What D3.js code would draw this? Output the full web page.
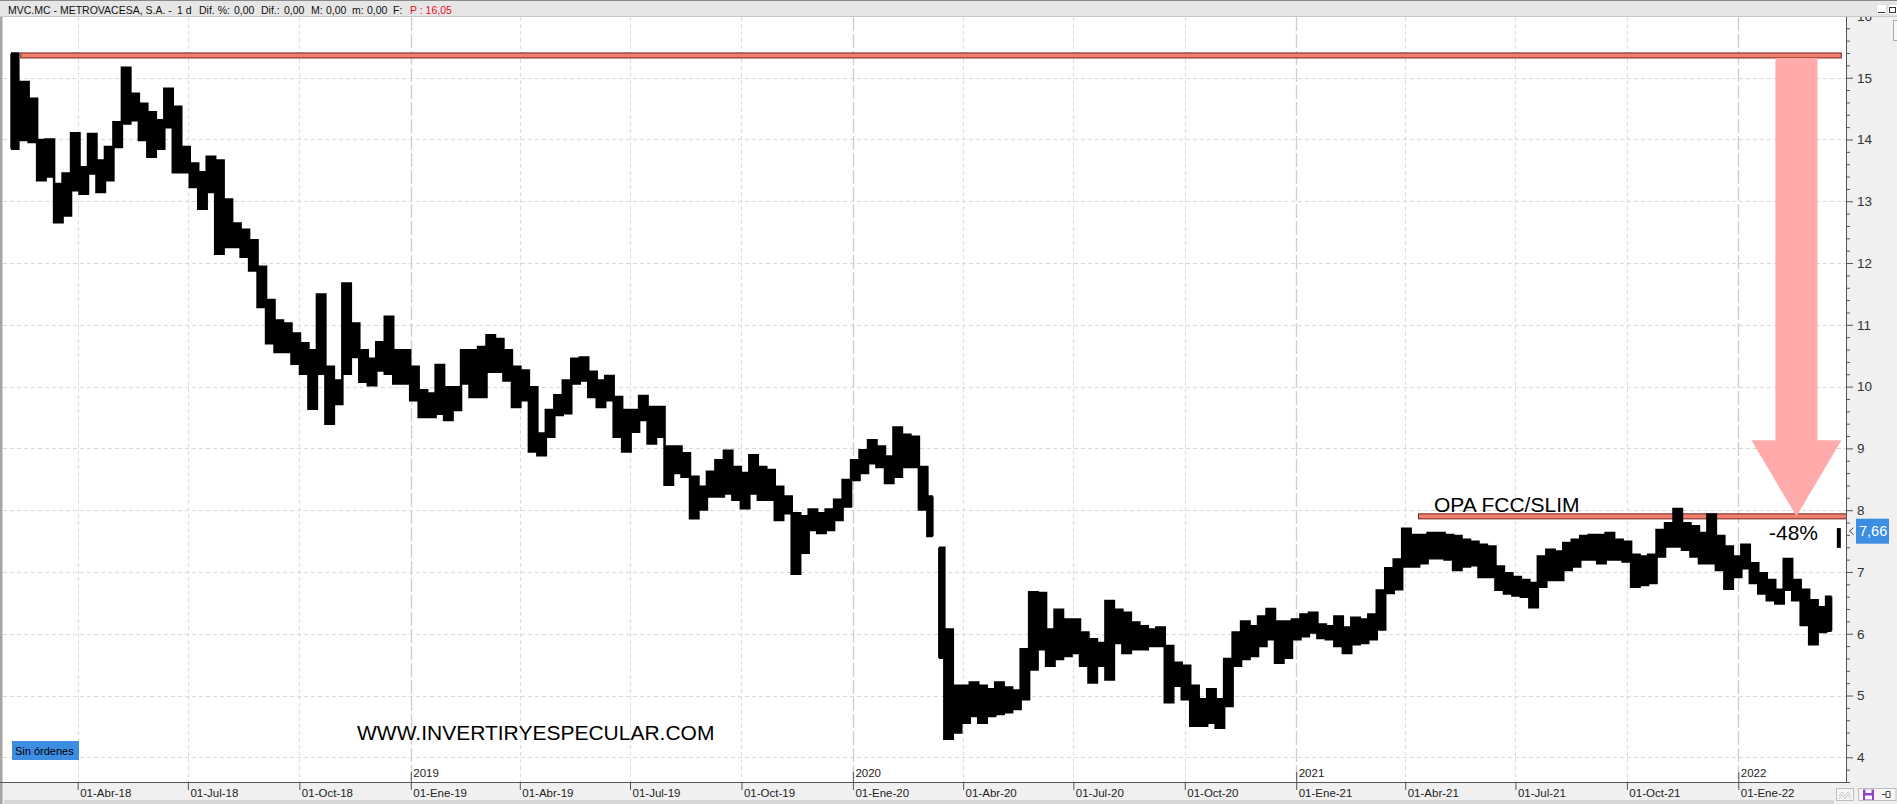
<!DOCTYPE html>
<html><head><meta charset="utf-8">
<script src="https://cdn.jsdelivr.net/npm/d3@7"></script>
<style>
html,body{margin:0;padding:0;background:#fff;overflow:hidden;}
svg{display:block;}
text{font-family:"Liberation Sans",Arial,sans-serif;}
</style></head><body>
<svg id="c" width="1897" height="804"></svg>
<script>
// ---------- DATA (weekly high / low) ----------
const weekDates = [
"2018-02-06","2018-02-16","2018-02-23","2018-03-02","2018-03-09","2018-03-16","2018-03-23","2018-03-30",
"2018-04-06","2018-04-13","2018-04-20","2018-04-27","2018-05-04","2018-05-11","2018-05-18","2018-05-25",
"2018-06-01","2018-06-08","2018-06-15","2018-06-22","2018-06-29","2018-07-06","2018-07-13","2018-07-20","2018-07-27",
"2018-08-03","2018-08-10","2018-08-17","2018-08-24","2018-08-31","2018-09-07","2018-09-14","2018-09-21","2018-09-28",
"2018-10-05","2018-10-12","2018-10-19","2018-10-26","2018-11-02","2018-11-09","2018-11-16","2018-11-23","2018-11-30",
"2018-12-07","2018-12-14","2018-12-21","2018-12-28",
"2019-01-04","2019-01-11","2019-01-18","2019-01-25","2019-02-01","2019-02-08","2019-02-15","2019-02-22",
"2019-03-01","2019-03-08","2019-03-15","2019-03-22","2019-03-29","2019-04-05","2019-04-12","2019-04-19","2019-04-26",
"2019-05-03","2019-05-10","2019-05-17","2019-05-24","2019-05-31","2019-06-07","2019-06-14","2019-06-21","2019-06-28",
"2019-07-05","2019-07-12","2019-07-19","2019-07-26","2019-08-02","2019-08-09","2019-08-16","2019-08-23","2019-08-30",
"2019-09-06","2019-09-13","2019-09-20","2019-09-27","2019-10-04","2019-10-11","2019-10-18","2019-10-25",
"2019-11-01","2019-11-08","2019-11-15","2019-11-22","2019-11-29","2019-12-06","2019-12-13","2019-12-20","2019-12-27",
"2020-01-03","2020-01-10","2020-01-17","2020-01-24","2020-01-31","2020-02-07","2020-02-14","2020-02-21","2020-02-28",
"2020-03-06","2020-03-13","2020-03-20","2020-03-27","2020-04-03","2020-04-10","2020-04-17","2020-04-24",
"2020-05-01","2020-05-08","2020-05-15","2020-05-22","2020-05-29","2020-06-05","2020-06-12","2020-06-19","2020-06-26",
"2020-07-03","2020-07-10","2020-07-17","2020-07-24","2020-07-31","2020-08-07","2020-08-14","2020-08-21","2020-08-28",
"2020-09-04","2020-09-11","2020-09-18","2020-09-25","2020-10-02","2020-10-09","2020-10-16","2020-10-23","2020-10-30",
"2020-11-06","2020-11-13","2020-11-20","2020-11-27","2020-12-04","2020-12-11","2020-12-18","2020-12-25",
"2021-01-01","2021-01-08","2021-01-15","2021-01-22","2021-01-29","2021-02-05","2021-02-12","2021-02-19","2021-02-26",
"2021-03-05","2021-03-12","2021-03-19","2021-03-26","2021-04-02","2021-04-09","2021-04-16","2021-04-23","2021-04-30",
"2021-05-07","2021-05-14","2021-05-21","2021-05-28","2021-06-04","2021-06-11","2021-06-18","2021-06-25",
"2021-07-02","2021-07-09","2021-07-16","2021-07-23","2021-07-30","2021-08-06","2021-08-13","2021-08-20","2021-08-27",
"2021-09-03","2021-09-10","2021-09-17","2021-09-24","2021-10-01","2021-10-08","2021-10-15","2021-10-22","2021-10-29",
"2021-11-05","2021-11-12","2021-11-19","2021-11-26","2021-12-03","2021-12-10","2021-12-17","2021-12-24","2021-12-31",
"2022-01-07","2022-01-14","2022-01-21","2022-01-28","2022-02-04","2022-02-11","2022-02-18","2022-02-25",
"2022-03-04","2022-03-11","2022-03-18","2022-03-25"
];
const weekHigh = [
15.39,14.93,14.66,13.99,14.00,13.28,13.45,14.10,13.55,14.09,13.66,13.88,14.28,15.16,14.74,14.58,
14.44,14.31,14.82,14.53,13.88,13.61,13.47,13.72,13.66,13.03,12.64,12.54,12.37,11.94,11.40,11.07,11.02,10.86,
10.70,10.59,11.49,10.32,10.10,11.67,11.02,10.59,10.45,10.72,11.13,10.59,10.59,
10.32,9.94,9.89,10.35,9.99,9.99,10.59,10.59,10.64,10.83,10.77,10.59,10.32,10.26,9.99,9.24,9.62,
9.86,10.10,10.45,10.47,10.24,10.10,10.17,9.83,9.62,9.62,9.85,9.67,9.67,9.03,9.03,8.92,8.54,8.38,
8.62,8.81,8.96,8.70,8.60,8.89,8.70,8.65,8.38,8.22,7.95,7.90,8.01,7.95,8.01,8.17,8.49,
8.81,8.97,9.13,9.03,8.87,9.34,9.22,9.19,8.70,8.22,7.39,6.07,5.16,5.16,5.21,5.16,5.10,
5.21,5.13,5.08,5.75,6.67,6.66,6.07,6.39,6.23,6.23,6.02,5.91,5.85,6.53,6.39,6.34,6.18,6.12,
6.07,6.10,5.80,5.53,5.48,5.16,4.94,5.10,4.94,5.59,6.02,6.20,6.12,6.28,6.40,6.20,6.20,
6.23,6.31,6.34,6.15,6.12,6.28,6.10,6.26,6.23,6.31,6.70,7.06,7.20,7.70,7.60,7.60,7.63,7.63,
7.60,7.58,7.52,7.49,7.44,7.41,7.09,6.98,6.92,6.87,6.82,7.25,7.36,7.33,7.47,7.52,7.58,
7.60,7.60,7.63,7.52,7.49,7.28,7.25,7.28,7.68,7.79,8.02,7.79,7.74,7.63,7.93,7.58,7.41,7.25,
7.44,7.14,6.98,6.87,6.71,7.21,6.87,6.71,6.54,6.43,6.60,7.71
];
const weekLow = [
13.85,13.99,13.96,13.34,13.40,12.66,12.77,13.18,13.12,13.45,13.15,13.34,13.88,14.26,14.31,13.99,
13.72,13.85,14.20,13.47,13.47,13.23,12.88,13.15,12.15,12.26,12.26,12.10,11.88,11.29,10.70,10.56,10.56,10.37,
10.21,9.64,10.21,9.40,9.72,10.21,10.48,10.08,10.02,10.26,10.21,10.05,10.05,
9.78,9.51,9.51,9.56,9.46,9.62,10.05,9.83,9.83,10.24,10.24,10.10,9.67,9.78,8.95,8.89,9.19,
9.54,9.57,10.05,10.10,9.83,9.67,9.78,9.19,8.95,9.27,9.46,9.08,9.19,8.41,8.60,8.54,7.87,8.01,
8.22,8.22,8.27,8.17,8.03,8.27,8.17,8.17,7.84,7.95,6.97,7.31,7.68,7.63,7.68,7.84,8.06,
8.49,8.60,8.76,8.70,8.44,8.54,8.70,8.70,8.01,7.58,5.61,4.30,4.40,4.56,4.67,4.56,4.67,
4.70,4.73,4.78,4.94,5.42,5.75,5.48,5.59,5.64,5.69,5.48,5.21,5.48,5.26,5.85,5.69,5.75,5.75,
5.80,5.80,4.89,5.16,4.94,4.51,4.51,4.56,4.48,4.83,5.48,5.59,5.64,5.80,5.91,5.53,5.61,
5.91,5.96,6.02,5.93,5.91,5.80,5.69,5.83,5.85,5.91,6.07,6.66,6.72,7.09,7.09,7.14,7.22,7.22,
7.20,7.03,7.09,7.11,6.92,6.92,6.71,6.65,6.62,6.60,6.43,6.76,6.87,6.87,7.03,7.09,7.20,
7.20,7.14,7.20,7.20,7.17,6.76,6.79,6.82,7.25,7.41,7.41,7.36,7.25,7.14,7.14,7.03,6.73,6.92,
7.06,6.82,6.65,6.54,6.49,6.71,6.54,6.14,5.83,6.03,6.05,7.39
];
// price gaps: the series is broken after these weeks
const gapAfter = ["2020-03-06","2022-03-18"];
const yMajorTicks = [4,5,6,7,8,9,10,11,12,13,14,15,16];
const quarterTicks = ["2018-04-01","2018-07-01","2018-10-01","2019-01-01","2019-04-01","2019-07-01","2019-10-01",
"2020-01-01","2020-04-01","2020-07-01","2020-10-01","2021-01-01","2021-04-01","2021-07-01","2021-10-01","2022-01-01"];
const quarterLabels = ["01-Abr-18","01-Jul-18","01-Oct-18","01-Ene-19","01-Abr-19","01-Jul-19","01-Oct-19",
"01-Ene-20","01-Abr-20","01-Jul-20","01-Oct-20","01-Ene-21","01-Abr-21","01-Jul-21","01-Oct-21","01-Ene-22"];
const yearTicks = ["2019-01-01","2020-01-01","2021-01-01","2022-01-01"];
const yearLabels = ["2019","2020","2021","2022"];
const topLevel = 15.36, topLevelStart = "2018-02-13", topLevelEnd = "2022-03-27";
const opaLevel = 7.9, opaStart = "2021-04-12";
const opaLabel = "OPA FCC/SLIM", dropLabel = "-48%";
const lastPrice = 7.66, lastPriceLabel = "7,66";
const arrowDate = "2022-02-18";
const watermark = "WWW.INVERTIRYESPECULAR.COM";
const headerText = ["MVC.MC - METROVACESA, S.A. -","1 d","Dif. %:","0,00","Dif.:","0,00","M:","0,00","m:","0,00","F:","P : 16,05"];

// ---------- LAYOUT ----------
const W = 1897, H = 804;
const plotL = 3, plotR = 1846, plotT = 17, plotB = 782;
const parse = d3.timeParse("%Y-%m-%d");
const x = d3.scaleTime().domain([parse("2018-04-01"), parse("2022-01-01")]).range([77.7, 1738.3]);
const y = d3.scaleLinear().domain([4, 15]).range([757.3, 77.7]);

const svg = d3.select("#c");
svg.append("rect").attr("width", W).attr("height", H).attr("fill", "#fff");

// panels
svg.append("rect").attr("x", plotR).attr("y", plotT).attr("width", W - plotR).attr("height", plotB - plotT).attr("fill", "#F0F0F0");
svg.append("rect").attr("x", 0).attr("y", plotB).attr("width", W).attr("height", H - plotB).attr("fill", "#F0F0F0");
svg.append("rect").attr("x", 4).attr("y", 800).attr("width", 1830).attr("height", 4).attr("fill", "#D6D6D6");
svg.append("rect").attr("x", 0).attr("y", plotT).attr("width", 2.5).attr("height", H - plotT).attr("fill", "#A5A5A5");

svg.append("defs").append("clipPath").attr("id", "plotclip").append("rect")
  .attr("x", plotL).attr("y", plotT).attr("width", plotR - plotL).attr("height", plotB - plotT);
const plot = svg.append("g").attr("clip-path", "url(#plotclip)");

// grid
const yearSet = new Set(yearTicks);
plot.append("g").selectAll("line").data(yMajorTicks).join("line")
  .attr("x1", plotL).attr("x2", plotR).attr("y1", d => Math.round(y(d)) + 0.5).attr("y2", d => Math.round(y(d)) + 0.5)
  .attr("stroke", "#D8D8D8").attr("stroke-dasharray", "4,3");
plot.append("g").selectAll("line").data(quarterTicks).join("line")
  .attr("x1", d => Math.round(x(parse(d))) + 0.5).attr("x2", d => Math.round(x(parse(d))) + 0.5)
  .attr("y1", plotT).attr("y2", plotB)
  .attr("stroke", d => yearSet.has(d) ? "#CFCFCF" : "#DCDCDC")
  .attr("stroke-width", d => yearSet.has(d) ? 1.4 : 1)
  .attr("stroke-dasharray", d => yearSet.has(d) ? "14,3" : "4,3");

// horizontal level bars
function levelBar(level, x0, x1) {
  plot.append("rect").attr("x", x0).attr("y", y(level) - 2.5).attr("width", x1 - x0).attr("height", 5)
    .attr("fill", "#EE806C").attr("stroke", "#7A1F1F").attr("stroke-width", 1);
}
levelBar(topLevel, x(parse(topLevelStart)), x(parse(topLevelEnd)));
levelBar(opaLevel, x(parse(opaStart)), plotR + 2);

// arrow
const ax = x(parse(arrowDate));
const shaftTop = y(topLevel) + 2.5, tipY = y(opaLevel), headY = tipY - 76;
plot.append("path")
  .attr("d", `M${ax - 21},${shaftTop} L${ax + 21},${shaftTop} L${ax + 21},${headY} L${ax + 45},${headY} L${ax},${tipY} L${ax - 45},${headY} L${ax - 21},${headY} Z`)
  .attr("fill", "#FFABAB");

// price series
const pts = weekDates.map((d, i) => ({ key: d, date: parse(d), hi: weekHigh[i], lo: weekLow[i] }));
const gapSet = new Set(gapAfter);
const segments = [];
let cur = [];
pts.forEach(p => {
  cur.push(p);
  if (gapSet.has(p.key)) { segments.push(cur); cur = []; }
});
if (cur.length) segments.push(cur);
const area = d3.area().x(d => x(d.date)).y0(d => y(d.lo)).y1(d => y(d.hi)).curve(d3.curveStep);
const priceG = plot.append("g");
priceG.selectAll("path.seg").data(segments.filter(s => s.length > 1)).join("path").attr("class", "seg")
  .attr("d", area).attr("fill", "#000").attr("stroke", "#000").attr("stroke-width", 2.5).attr("stroke-linejoin", "miter");
priceG.selectAll("line").data(pts).join("line")
  .attr("x1", d => x(d.date)).attr("x2", d => x(d.date))
  .attr("y1", d => y(d.hi)).attr("y2", d => y(d.lo))
  .attr("stroke", "#000").attr("stroke-width", 4);

// texts
svg.append("text").attr("x", 1434).attr("y", y(opaLevel) - 4.5).attr("font-size", 21).attr("fill", "#000").text(opaLabel);
svg.append("text").attr("x", 1769).attr("y", y(opaLevel) + 24).attr("font-size", 21).attr("fill", "#000").text(dropLabel);
svg.append("text").attr("x", 357).attr("y", 740).attr("font-size", 21).attr("fill", "#000").text(watermark);

// Sin órdenes
svg.append("rect").attr("x", 12).attr("y", 741).attr("width", 67).attr("height", 19).attr("fill", "#3D8EE3");
svg.append("text").attr("x", 15).attr("y", 755).attr("font-size", 11).attr("fill", "#000").text("Sin órdenes");

// y axis (right)
const yAxisG = svg.append("g").attr("transform", `translate(${plotR},0)`).attr("color", "#555");
const minorTicks = d3.range(36, 161, 2).map(v => v / 10).filter(v => Math.abs(v - Math.round(v)) > 1e-6);
yAxisG.append("g").call(d3.axisRight(y).tickValues(minorTicks).tickSize(4).tickFormat(""))
  .call(g => g.select(".domain").remove());
yAxisG.append("g").call(d3.axisRight(y).tickValues(yMajorTicks).tickSize(7).tickPadding(4).tickFormat(d3.format("d")))
  .call(g => g.select(".domain").remove())
  .call(g => g.selectAll("text").attr("font-size", 13.5).attr("fill", "#333").attr("font-family", "Liberation Sans, Arial, sans-serif"));
svg.append("line").attr("x1", plotR + 0.5).attr("x2", plotR + 0.5).attr("y1", plotT).attr("y2", plotB).attr("stroke", "#555");

// last price tag
const ly = y(lastPrice);
svg.append("rect").attr("x", 1856).attr("y", ly - 12.5).attr("width", 33).attr("height", 25).attr("fill", "#3D8EE3");
svg.append("text").attr("x", 1859).attr("y", ly + 5).attr("font-size", 14.5).attr("fill", "#fff").text(lastPriceLabel);
svg.append("path").attr("d", `M1853.5,${ly - 3.5} L1849.5,${ly} L1853.5,${ly + 3.5}`).attr("fill", "none").attr("stroke", "#444");

// x axis
const xAxisG = svg.append("g").attr("transform", `translate(0,${plotB})`).attr("color", "#555");
xAxisG.call(d3.axisBottom(x).tickValues(quarterTicks.map(parse)).tickSizeInner(8).tickSizeOuter(0)
    .tickFormat((d, i) => quarterLabels[i]))
  .call(g => g.select(".domain").remove())
  .call(g => g.selectAll("text").attr("text-anchor", "start").attr("x", 2).attr("y", 7).attr("dy", "0.71em")
    .attr("font-size", 11.5).attr("fill", "#222").attr("font-family", "Liberation Sans, Arial, sans-serif"));
const yearAxisG = svg.append("g").attr("transform", `translate(0,${plotB})`).attr("color", "#555");
yearAxisG.call(d3.axisTop(x).tickValues(yearTicks.map(parse)).tickSizeInner(10).tickSizeOuter(0)
    .tickFormat((d, i) => yearLabels[i]))
  .call(g => g.select(".domain").remove())
  .call(g => g.selectAll("text").attr("text-anchor", "start").attr("x", 2).attr("y", -5).attr("dy", 0)
    .attr("font-size", 11.5).attr("fill", "#222").attr("font-family", "Liberation Sans, Arial, sans-serif"));
svg.append("line").attr("x1", 0).attr("x2", plotR).attr("y1", plotB + 0.5).attr("y2", plotB + 0.5).attr("stroke", "#555");

// bottom-right buttons
svg.append("rect").attr("x", 1836.5).attr("y", 788.5).attr("width", 17).attr("height", 12).attr("fill", "#F6F6F6").attr("stroke", "#BDBDBD");
svg.append("path").attr("d", "M1839,796 L1842,792 L1845,796 L1848,792 L1851,796 M1839,799 L1842,795 L1845,799 L1848,795 L1851,799")
  .attr("fill", "none").attr("stroke", "#C8C8C8");
svg.append("rect").attr("x", 1858.5).attr("y", 788.5).attr("width", 37.5).attr("height", 12).attr("fill", "#F6F6F6").attr("stroke", "#BDBDBD");
svg.append("rect").attr("x", 1863).attr("y", 789.5).attr("width", 11).attr("height", 10.5).attr("fill", "#8E44C9");
svg.append("rect").attr("x", 1865.5).attr("y", 789.5).attr("width", 6).attr("height", 3.5).attr("fill", "#fff");
svg.append("rect").attr("x", 1865).attr("y", 795.5).attr("width", 7).attr("height", 4).attr("fill", "#fff");
svg.append("path").attr("d", "M1882,794.5 L1886,794.5 M1886,791.5 L1886,797.5 L1890,797.5 L1890,791.5 Z")
  .attr("fill", "none").attr("stroke", "#444");

// header
svg.append("rect").attr("x", 0).attr("y", 0).attr("width", W).attr("height", plotT).attr("fill", "#E6E6E6");
svg.append("line").attr("x1", 0).attr("x2", W).attr("y1", 0.5).attr("y2", 0.5).attr("stroke", "#8A8A8A");
svg.append("line").attr("x1", 0).attr("x2", W).attr("y1", plotT - 0.5).attr("y2", plotT - 0.5).attr("stroke", "#C8C8C8");
const headerX = [8, 177, 199, 234, 261, 284, 311, 326, 352, 367, 393, 410];
const ht = svg.append("text").attr("y", 13.5).attr("font-size", 10.5).attr("fill", "#111");
headerText.forEach((t, i) => {
  ht.append("tspan").attr("x", headerX[i]).attr("fill", i === headerText.length - 1 ? "#E8102A" : "#111").text(t);
});
svg.append("rect").attr("x", 1876.5).attr("y", 4.5).attr("width", 10).attr("height", 10).attr("fill", "#fff").attr("stroke", "#E0E0E0");
svg.append("line").attr("x1", 1878).attr("x2", 1885).attr("y1", 12.5).attr("y2", 12.5).attr("stroke", "#333");
svg.append("rect").attr("x", 1887.5).attr("y", 4.5).attr("width", 10).attr("height", 10).attr("fill", "#fff").attr("stroke", "#E0E0E0");
svg.append("rect").attr("x", 1889.5).attr("y", 7.5).attr("width", 6).attr("height", 5).attr("fill", "none").attr("stroke", "#333");
svg.append("rect").attr("x", 1893.5).attr("y", 20.5).attr("width", 4).attr("height", 20).attr("fill", "#F8F8F8").attr("stroke", "#AAAAAA");
</script>
</body></html>
